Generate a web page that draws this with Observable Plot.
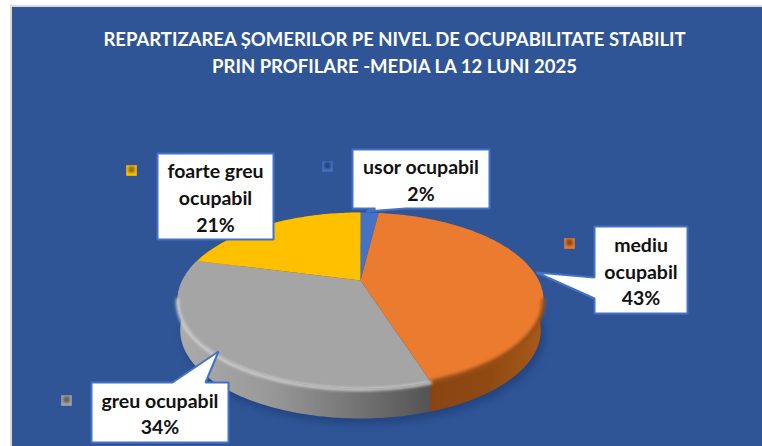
<!DOCTYPE html>
<html>
<head>
<meta charset="utf-8">
<script src="https://cdn.jsdelivr.net/npm/d3@7"></script>
<script src="https://cdn.jsdelivr.net/npm/@observablehq/plot@0.6"></script>
<style>html,body{margin:0;padding:0;background:#fff;overflow:hidden}svg{display:block}</style>
</head>
<body>
<div id="chart"></div>
<script>
// Data
const categories = ["usor ocupabil", "mediu ocupabil", "greu ocupabil", "foarte greu ocupabil"];
const values = [2, 43, 34, 21];
const colors = ["#4472C4", "#EB7B2E", "#A5A5A5", "#FFC000"];
const labelTexts = ["usor ocupabil\n2%", "mediu\nocupabil\n43%", "greu ocupabil\n34%", "foarte greu\nocupabil\n21%"];
const titleLines = ["REPARTIZAREA ȘOMERILOR PE NIVEL DE OCUPABILITATE STABILIT", "PRIN PROFILARE -MEDIA LA 12 LUNI 2025"];

// Layout (positions and sizes, separate from data)
const W = 762, H = 446;
const geom = {cx: 360, cy: 300, rx: 183, ry: 88, tilt: 0.227, depth: 30, inset: 0.985};
const boxes = [
  {x1: 352, x2: 489, y1: 149, y2: 208, bottom: [[405, 208], [366, 211], [375, 208]], key: [327, 166]},
  {x1: 594, x2: 687, y1: 226, y2: 313, left: [[594, 298], [536, 272], [594, 277]], key: [569, 243]},
  {x1: 91, x2: 228, y1: 382, y2: 442, top: [[172, 382], [218, 351], [205, 382]], key: [66, 400]},
  {x1: 157, x2: 273, y1: 153, y2: 239, key: [131, 170]}
];
const FONT = "Lato, 'Open Sans', sans-serif";

// Perspective projection of a disc: angle clockwise from the top → point on the rim
function rim(theta, r = 1) {
  const u = r * Math.sin(theta), v = -r * Math.cos(theta), a = geom.tilt;
  const d = 1 - a * v;
  return {x: geom.cx + geom.rx * u * Math.sqrt(1 - a * a) / d, y: geom.cy + geom.ry * (v - a) / d};
}
const pie = d3.pie().sort(null).value(d => d)(values);
const arcPts = (s, e) => {
  const n = Math.max(2, Math.ceil((e - s) / 0.02));
  return d3.range(n + 1).map(i => rim(s + (e - s) * i / n));
};
const lower = p => ({x: geom.cx + (p.x - geom.cx) * geom.inset, y: p.y + geom.depth});
const slices = pie.map((a, i) => {
  const arc = arcPts(a.startAngle, a.endAngle);
  return {
    i,
    top: [rim(0, 0), ...arc],
    wall: [...arc, ...arc.map(lower).reverse()],
    arc
  };
});
const whole = arcPts(0, 2 * Math.PI);
const shadow = whole.map(p => ({x: lower(p).x + 3, y: lower(p).y + 5}));
const front = pts => pts.filter(p => p.y >= geom.cy - 2);

const wallFill = ["#2f5090", "url(#wallOrange)", "url(#wallGray)", "#a07a00"];

const defs = () => {
  const g = d3.create("svg:defs");
  const grad = (id, stops) => {
    const l = g.append("linearGradient").attr("id", id).attr("gradientUnits", "userSpaceOnUse")
      .attr("x1", geom.cx - geom.rx).attr("x2", geom.cx + geom.rx).attr("y1", 0).attr("y2", 0);
    stops.forEach(([o, c]) => l.append("stop").attr("offset", o).attr("stop-color", c));
  };
  grad("wallGray", [[0, "#ababab"], [0.25, "#999999"], [0.45, "#7a7a7a"], [0.68, "#555555"], [1, "#555555"]]);
  grad("wallOrange", [[0, "#8a4a14"], [0.68, "#8a4412"], [0.85, "#8f4a12"], [1, "#a85a1a"]]);
  return g.node();
};

const polygon = (pts, o) => Plot.line(pts, {x: "x", y: "y", stroke: "none", ...o});
const pairs = a => a.map(([x, y]) => ({x, y}));

const calloutPath = b => pairs([
  [b.x1, b.y1], ...(b.top || []), [b.x2, b.y1], [b.x2, b.y2],
  ...(b.bottom || []), [b.x1, b.y2], ...(b.left || []), [b.x1, b.y1]
]);

const chart = Plot.plot({
  width: W, height: H, margin: 0,
  x: {domain: [0, W], range: [0, W], axis: null},
  y: {domain: [0, H], range: [0, H], axis: null},
  style: {background: "transparent", fontFamily: FONT},
  marks: [
    defs,
    Plot.rect([{}], {x1: () => 10, x2: () => W, y1: () => 5, y2: () => H, fill: "#d9d9d9"}),
    Plot.rect([{}], {x1: () => 12, x2: () => W, y1: () => 7, y2: () => H, fill: "#2F5597"}),
    // Title
    Plot.text(titleLines, {
      x: () => 394, y: (d, i) => 40 + i * 26.5, text: d => d,
      fill: "white", fontWeight: "bold", fontSize: 18.5, fontFamily: FONT, textAnchor: "middle"
    }),
    // Shadow under the disc
    polygon(shadow, {fill: "#1f3f78", imageFilter: "blur(4px)", fillOpacity: 0.8}),
    // Walls
    ...slices.map(s => polygon(s.wall, {fill: wallFill[s.i], imageFilter: "blur(0.5px)"})),
    // Top faces
    ...slices.map(s => polygon(s.top, {fill: colors[s.i], imageFilter: "blur(0.7px)"})),
    // Bevel along the rim
    polygon(front(slices[1].arc), {stroke: "#9a4f18", strokeWidth: 4, imageFilter: "blur(1.5px)"}),
    polygon(front(slices[2].arc).map(p => ({x: p.x, y: p.y + 1})), {stroke: "#d4d4d4", strokeWidth: 3, imageFilter: "blur(1.5px)"}),
    // Callouts
    ...boxes.map(b => polygon(calloutPath(b), {fill: "white", stroke: "#4472C4", strokeWidth: 2, strokeLinejoin: "miter"})),
    Plot.text(boxes, {
      x: b => (b.x1 + b.x2) / 2, y: b => (b.y1 + b.y2) / 2,
      text: (b, i) => labelTexts[i],
      fill: "#111", fontWeight: "bold", fontSize: 19.5, fontFamily: FONT, lineHeight: 1.36, textAnchor: "middle"
    }),
    // Legend keys
    Plot.dot(boxes, {x: b => b.key[0], y: b => b.key[1], r: 6, symbol: "square", fill: (b, i) => colors[i], stroke: "none"}),
    Plot.dot(boxes, {x: b => b.key[0], y: b => b.key[1] - 1, r: 3.5, symbol: "square", fill: (b, i) => d3.color(colors[i]).darker(1.5).formatHex(), stroke: "none", imageFilter: "blur(1px)"})
  ]
});
document.getElementById("chart").append(chart);
</script>
</body>
</html>
